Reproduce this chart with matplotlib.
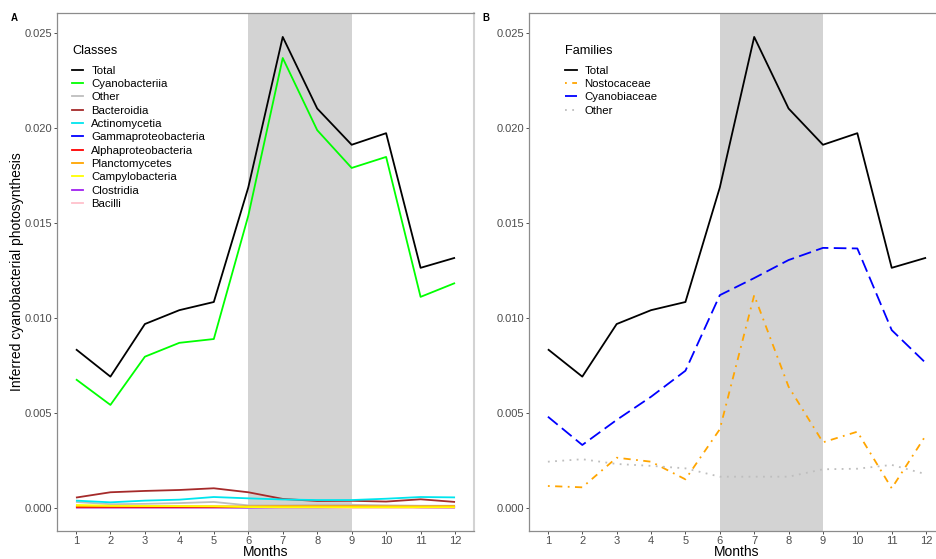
import matplotlib
matplotlib.use("Agg")
import matplotlib.pyplot as plt
from matplotlib.lines import Line2D

plt.rcParams['font.family'] = ['Liberation Sans', 'DejaVu Sans']

months = list(range(1, 13))

# Panel A: classes
total = [0.00834, 0.00690, 0.00967, 0.01040, 0.01083, 0.01686, 0.02479, 0.02102, 0.01911, 0.01972, 0.01263, 0.01316]
cyanobacteriia = [0.00676, 0.00541, 0.00795, 0.00868, 0.00888, 0.01537, 0.02368, 0.01988, 0.01789, 0.01847, 0.01110, 0.01183]
other_cls = [0.00030, 0.00018, 0.00020, 0.00024, 0.00030, 0.00012, 0.00012, 0.00015, 0.00015, 0.00012, 0.00010, 0.00010]
bacteroidia = [0.00053, 0.00081, 0.00088, 0.00093, 0.00102, 0.00081, 0.00046, 0.00035, 0.00036, 0.00032, 0.00044, 0.00030]
actinomycetia = [0.00037, 0.00028, 0.00037, 0.00042, 0.00056, 0.00049, 0.00043, 0.00040, 0.00040, 0.00047, 0.00056, 0.00054]
gammaproteobacteria = [0.00003, 0.00003, 0.00003, 0.00003, 0.00003, 0.00002, 0.00002, 0.00002, 0.00003, 0.00003, 0.00003, 0.00003]
alphaproteobacteria = [0.00002, 0.00002, 0.00002, 0.00002, 0.00002, 0.00002, 0.00002, 0.00002, 0.00002, 0.00002, 0.00002, 0.00002]
planctomycetes = [0.00007, 0.00007, 0.00007, 0.00007, 0.00007, 0.00007, 0.00008, 0.00008, 0.00008, 0.00007, 0.00007, 0.00008]
campylobacteria = [0.00014, 0.00010, 0.00009, 0.00008, 0.00007, 0.00003, 0.00002, 0.00002, 0.00002, 0.00002, 0.00002, 0.00002]
clostridia = [0.00001, 0.00001, 0.00001, 0.00001, 0.00001, 0.00001, 0.00003, 0.00005, 0.00007, 0.00006, 0.00002, 0.00001]
bacilli = [0.00000, 0.00000, 0.00000, 0.00000, 0.00000, 0.00000, 0.00000, 0.00000, 0.00000, 0.00000, 0.00000, 0.00000]

class_names = ["Total", "Cyanobacteriia", "Other", "Bacteroidia", "Actinomycetia",
               "Gammaproteobacteria", "Alphaproteobacteria", "Planctomycetes",
               "Campylobacteria", "Clostridia", "Bacilli"]
class_values = [total, cyanobacteriia, other_cls, bacteroidia, actinomycetia,
                gammaproteobacteria, alphaproteobacteria, planctomycetes,
                campylobacteria, clostridia, bacilli]
class_colors = ["#000000", "#00FF00", "#BEBEBE", "#A52A2A", "#00E5EE",
                "#0000FF", "#FF0000", "#FFA500", "#FFFF00", "#A020F0", "#FFC0CB"]

# Panel B: families
nostocaceae = [0.00114, 0.00107, 0.00263, 0.00242, 0.00149, 0.00413, 0.01119, 0.00637, 0.00344, 0.00400, 0.00102, 0.00383]
cyanobiaceae = [0.00479, 0.00330, 0.00462, 0.00584, 0.00721, 0.01119, 0.01209, 0.01304, 0.01368, 0.01365, 0.00935, 0.00760]
other_fam = [0.00242, 0.00255, 0.00230, 0.00220, 0.00207, 0.00163, 0.00163, 0.00163, 0.00202, 0.00205, 0.00225, 0.00176]

fam_names = ["Total", "Nostocaceae", "Cyanobiaceae", "Other"]
fam_values = [total, nostocaceae, cyanobiaceae, other_fam]
fam_colors = ["#000000", "#FFA500", "#0000FF", "#BEBEBE"]
fam_dashes = [None, (1, 3, 4, 3), (7, 3), (1, 3)]

yticks = [0.000, 0.005, 0.010, 0.015, 0.020, 0.025]
ytick_labels = ["0.000", "0.005", "0.010", "0.015", "0.020", "0.025"]
shade_start, shade_end = 6, 9

W, H = 936, 559
fig = plt.figure(figsize=(W / 100, H / 100), dpi=100)

def px_axes(l, r, t, b):
    return fig.add_axes([l / W, 1 - b / H, (r - l) / W, (b - t) / H])

axA = px_axes(57, 474, 13, 531)
axB = px_axes(529, 945, 13, 531)

LW = 1.3

def style(ax):
    ax.set_xlim(0.45, 12.55)
    ax.set_ylim(-0.00123, 0.02605)
    ax.axvspan(shade_start, shade_end, color="#D3D3D3", lw=0, zorder=0)
    ax.set_xticks(months)
    ax.set_xticklabels([str(m) for m in months])
    ax.set_yticks(yticks)
    ax.set_yticklabels(ytick_labels)
    ax.tick_params(axis="both", direction="out", length=2.5, width=0.6,
                   color="#333333", labelcolor="#4D4D4D", labelsize=8, pad=1)
    for s in ["left", "bottom", "top"]:
        ax.spines[s].set_color("#8C8C8C")
        ax.spines[s].set_linewidth(0.9)
    ax.spines["right"].set_color("#D3D3D3")
    ax.spines["right"].set_linewidth(1.5)
    ax.set_facecolor("white")

style(axA)
style(axB)

zorders = {"Bacilli": 2.5, "Clostridia": 2.6, "Planctomycetes": 3.3, "Campylobacteria": 3.4}
for name, vals, col in zip(class_names, class_values, class_colors):
    z = zorders.get(name, 3)
    axA.plot(months, vals, color=col, lw=LW, label=name, solid_capstyle="butt",
             zorder=z)

FS = 8.2
LS = 0.29

def make_legend(ax, handles, names, title, x_anchor):
    leg = ax.legend(handles, names, title=title, loc="upper left",
                    bbox_to_anchor=(x_anchor, 0.939), frameon=False, fontsize=FS,
                    title_fontsize=9.2, handlelength=1.0, handletextpad=0.7,
                    labelspacing=LS, borderpad=0, borderaxespad=0)
    leg._legend_box.align = "left"
    leg._legend_box.sep = LS * FS + 4.3
    return leg

handlesA = [Line2D([0], [0], color=c, lw=LW) for c in class_colors]
make_legend(axA, handlesA, class_names, "Classes", 0.036)

for name, vals, col, d in zip(fam_names, fam_values, fam_colors, fam_dashes):
    ln, = axB.plot(months, vals, color=col, lw=LW, label=name, zorder=3,
                   solid_capstyle="butt", dash_capstyle="butt")
    if d is not None:
        ln.set_dashes(d)

handlesB = []
for c, d in zip(fam_colors, fam_dashes):
    h = Line2D([0], [0], color=c, lw=LW)
    if d is not None:
        h.set_dashes(d)
    handlesB.append(h)
make_legend(axB, handlesB, fam_names, "Families", 0.087)

for ax in (axA, axB):
    ax.set_xlabel("Months", fontsize=10)
    ax.xaxis.set_label_coords(0.5, -0.027)

fig.text(17 / W, 1 - 272 / H, "Inferred cyanobacterial photosynthesis",
         rotation=90, ha="center", va="center", fontsize=10)
fig.text(11 / W, 1 - 21 / H, "A", fontsize=7, fontweight="bold", va="baseline")
fig.text(482 / W, 1 - 21 / H, "B", fontsize=7, fontweight="bold", va="baseline")

fig.savefig("out.png", dpi=100)
